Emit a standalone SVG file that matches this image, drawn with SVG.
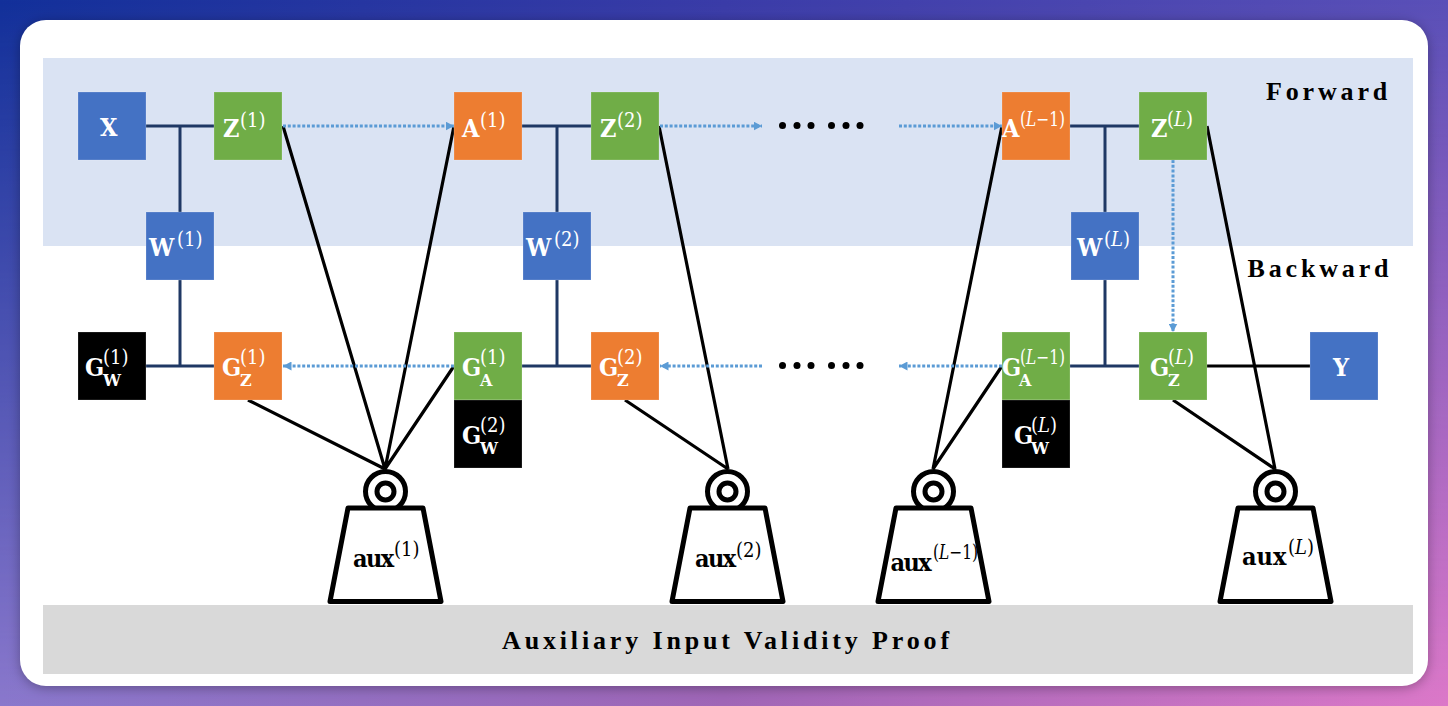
<svg xmlns="http://www.w3.org/2000/svg" width="1448" height="706" viewBox="0 0 1448 706">
<style>
.n{stroke:#fff;stroke-opacity:.2;stroke-width:1}
.blue{fill:#4472c4}.green{fill:#70ad47}.orange{fill:#ed7d31}.black{fill:#000}
.m{font-family:"DejaVu Serif",serif;font-stretch:condensed;font-weight:700;font-size:25px;fill:#fff}
.s{font-family:"DejaVu Serif",serif;font-stretch:condensed;font-weight:400;font-size:20px;fill:#fff}
.u{font-family:"DejaVu Serif",serif;font-weight:700;font-size:16px;fill:#fff}
.i{font-style:italic}
.a{letter-spacing:-1.6px}
.k{fill:#000}
.t{font-family:"Liberation Serif",serif;font-weight:700;font-size:26px;fill:#000;letter-spacing:3.85px}
.nv{stroke:#1f3864;stroke-width:3;fill:none}
.bk{stroke:#000;stroke-width:3.2;fill:none}
.dt{stroke:#5b9bd5;stroke-width:3;stroke-dasharray:3 1.8;fill:none}
.w1{fill:#fff;stroke:#000;stroke-width:5;stroke-linejoin:round}
.w2{fill:#fff;stroke:#000;stroke-width:5}
</style>
<defs>
<linearGradient id="h" x1="0" y1="0" x2="1" y2="0"><stop offset="0" stop-color="#12309a"/><stop offset=".5" stop-color="#3a3ca8"/><stop offset="1" stop-color="#5a50b8"/></linearGradient>
<linearGradient id="b" x1="0" y1="0" x2="1" y2="0"><stop offset="0" stop-color="#8a78cc"/><stop offset=".5" stop-color="#a066b6"/><stop offset="1" stop-color="#dc78c8"/></linearGradient>
<linearGradient id="v" x1="0" y1="0" x2="0" y2="1"><stop offset="0" stop-color="#fff" stop-opacity="0"/><stop offset="1" stop-color="#fff" stop-opacity="1"/></linearGradient>
<mask id="vm" maskUnits="userSpaceOnUse" x="0" y="0" width="1448" height="706"><rect width="1448" height="706" fill="url(#v)"/></mask>
<filter id="sh" x="-5%" y="-5%" width="110%" height="110%"><feGaussianBlur stdDeviation="6"/></filter>
<marker id="ah" markerUnits="userSpaceOnUse" markerWidth="9" markerHeight="9" refX="8.5" refY="4.5" orient="auto"><path d="M0 0L8.5 4.5L0 9Z" fill="#5b9bd5"/></marker>
<g id="wg"><circle class="w1" cx="0" cy="0" r="20"/><circle class="w2" cx="0" cy="0" r="8.5"/><path class="w1" d="M-37.5 16.5H37.5L55.5 110H-55.5Z"/></g>
</defs>
<rect width="1448" height="706" fill="url(#h)"/>
<rect width="1448" height="706" fill="url(#b)" mask="url(#vm)"/>
<rect x="20" y="22" width="1408" height="666" rx="26" fill="#000" fill-opacity=".3" filter="url(#sh)"/>
<rect x="20" y="20" width="1408" height="666" rx="26" fill="#fff"/>
<rect id="forward-band" x="43" y="58" width="1370" height="188" fill="#dae3f3"/>
<rect id="proof-band" x="43" y="605" width="1370" height="69" fill="#d9d9d9"/>
<text class="t" x="1266" y="100">Forward</text>
<text class="t" x="1247.5" y="277">Backward</text>
<text class="t" x="502" y="649">Auxiliary Input Validity Proof</text>
<g id="connectors">
<path class="nv" d="M146 126H214M180 126V212M180 280V366M146 366H214"/>
<path class="nv" d="M522 126H591M557 126V212M557 280V366M522 366H591"/>
<path class="nv" d="M1070 126H1139M1105 126V212M1105 280V366M1070 366H1139"/>
<path class="bk" d="M283 126L385 469M454 126L385 469M454 366L385 469M248 400L385 469"/>
<path class="bk" d="M659 126L728 469M625 400L728 469"/>
<path class="bk" d="M1002 126L933 469M1002 366L933 469"/>
<path class="bk" d="M1207 126L1275 469M1173 400L1275 469M1207 366H1310"/>
<path class="dt" marker-end="url(#ah)" d="M283 126H454"/>
<path class="dt" marker-end="url(#ah)" d="M660 126H762"/>
<path class="dt" marker-end="url(#ah)" d="M899 126H1002"/>
<path class="dt" marker-end="url(#ah)" d="M454 366H283"/>
<path class="dt" marker-end="url(#ah)" d="M762 366H660"/>
<path class="dt" marker-end="url(#ah)" d="M1002 366H899"/>
<path class="dt" marker-end="url(#ah)" d="M1173 160V332"/>
</g>
<g id="dots-top" fill="#000"><circle cx="782.5" cy="125.5" r="3.5"/><circle cx="797" cy="125.5" r="3.5"/><circle cx="811" cy="125.5" r="3.5"/><circle cx="831.5" cy="125.5" r="3.5"/><circle cx="846" cy="125.5" r="3.5"/><circle cx="860" cy="125.5" r="3.5"/></g>
<g id="dots-bottom" fill="#000"><circle cx="782.5" cy="365.5" r="3.5"/><circle cx="797" cy="365.5" r="3.5"/><circle cx="811" cy="365.5" r="3.5"/><circle cx="831.5" cy="365.5" r="3.5"/><circle cx="846" cy="365.5" r="3.5"/><circle cx="860" cy="365.5" r="3.5"/></g>
<g id="x"><rect class="n blue" x="78" y="92" width="68" height="68"/><text class="m" x="100" y="136">X</text></g>
<g id="z1"><rect class="n green" x="214" y="92" width="68" height="68"/><text class="m" x="223" y="137">Z</text><text class="s" x="240" y="127">(1)</text></g>
<g id="w1"><rect class="n blue" x="146" y="212" width="68" height="68"/><text class="m" x="149" y="256">W</text><text class="s" x="177" y="246">(1)</text></g>
<g id="gw1"><rect class="n black" x="78" y="332" width="68" height="68"/><text class="m" x="85" y="376">G</text><text class="s" x="103" y="364">(1)</text><text class="u" x="103" y="386">W</text></g>
<g id="gz1"><rect class="n orange" x="214" y="332" width="68" height="68"/><text class="m" x="222" y="376">G</text><text class="s" x="240" y="364">(1)</text><text class="u" x="240" y="386">Z</text></g>
<g id="a1"><rect class="n orange" x="454" y="92" width="68" height="68"/><text class="m" x="462" y="137">A</text><text class="s" x="480" y="127">(1)</text></g>
<g id="z2"><rect class="n green" x="591" y="92" width="68" height="68"/><text class="m" x="600" y="137">Z</text><text class="s" x="617" y="127">(2)</text></g>
<g id="w2"><rect class="n blue" x="523" y="212" width="68" height="68"/><text class="m" x="526" y="256">W</text><text class="s" x="554" y="246">(2)</text></g>
<g id="ga1"><rect class="n green" x="454" y="332" width="68" height="68"/><text class="m" x="462" y="376">G</text><text class="s" x="480" y="364">(1)</text><text class="u" x="480" y="386">A</text></g>
<g id="gw2"><rect class="n black" x="454" y="400" width="68" height="68"/><text class="m" x="462" y="444">G</text><text class="s" x="480" y="432">(2)</text><text class="u" x="480" y="454">W</text></g>
<g id="gz2"><rect class="n orange" x="591" y="332" width="68" height="68"/><text class="m" x="599" y="376">G</text><text class="s" x="617" y="364">(2)</text><text class="u" x="617" y="386">Z</text></g>
<g id="al1"><rect class="n orange" x="1002" y="92" width="68" height="68"/><text class="m" x="1002" y="137">A</text><text class="s" x="1020" y="126" textLength="45" lengthAdjust="spacingAndGlyphs">(<tspan class="i">L</tspan>−1)</text></g>
<g id="zl"><rect class="n green" x="1139" y="92" width="68" height="68"/><text class="m" x="1151" y="137">Z</text><text class="s" x="1167" y="126">(<tspan class="i">L</tspan>)</text></g>
<g id="wl"><rect class="n blue" x="1071" y="212" width="68" height="68"/><text class="m" x="1077" y="256">W</text><text class="s" x="1104" y="246">(<tspan class="i">L</tspan>)</text></g>
<g id="gal1"><rect class="n green" x="1002" y="332" width="68" height="68"/><text class="m" x="1002" y="376">G</text><text class="s" x="1020" y="364" textLength="45" lengthAdjust="spacingAndGlyphs">(<tspan class="i">L</tspan>−1)</text><text class="u" x="1019" y="386">A</text></g>
<g id="gwl"><rect class="n black" x="1002" y="400" width="68" height="68"/><text class="m" x="1014" y="444">G</text><text class="s" x="1031" y="432">(<tspan class="i">L</tspan>)</text><text class="u" x="1031" y="454">W</text></g>
<g id="gzl"><rect class="n green" x="1139" y="332" width="68" height="68"/><text class="m" x="1150" y="376">G</text><text class="s" x="1168" y="364">(<tspan class="i">L</tspan>)</text><text class="u" x="1168" y="386">Z</text></g>
<g id="y"><rect class="n blue" x="1310" y="332" width="68" height="68"/><text class="m" x="1333" y="376">Y</text></g>
<g id="aux1"><use href="#wg" x="385.5" y="491.5"/><text class="m k a" x="353" y="566.5">aux</text><text class="s k" x="394" y="556">(1)</text></g>
<g id="aux2"><use href="#wg" x="727.5" y="491.5"/><text class="m k a" x="695" y="567">aux</text><text class="s k" x="736" y="557">(2)</text></g>
<g id="auxl1"><use href="#wg" x="933.5" y="491.5"/><text class="m k a" x="890.5" y="570.5">aux</text><text class="s k" x="933" y="559" textLength="45" lengthAdjust="spacingAndGlyphs">(<tspan class="i">L</tspan>−1)</text></g>
<g id="auxl"><use href="#wg" x="1275.5" y="491.5"/><text class="m k" x="1242" y="565">aux</text><text class="s k" x="1288" y="554">(<tspan class="i">L</tspan>)</text></g>
</svg>
